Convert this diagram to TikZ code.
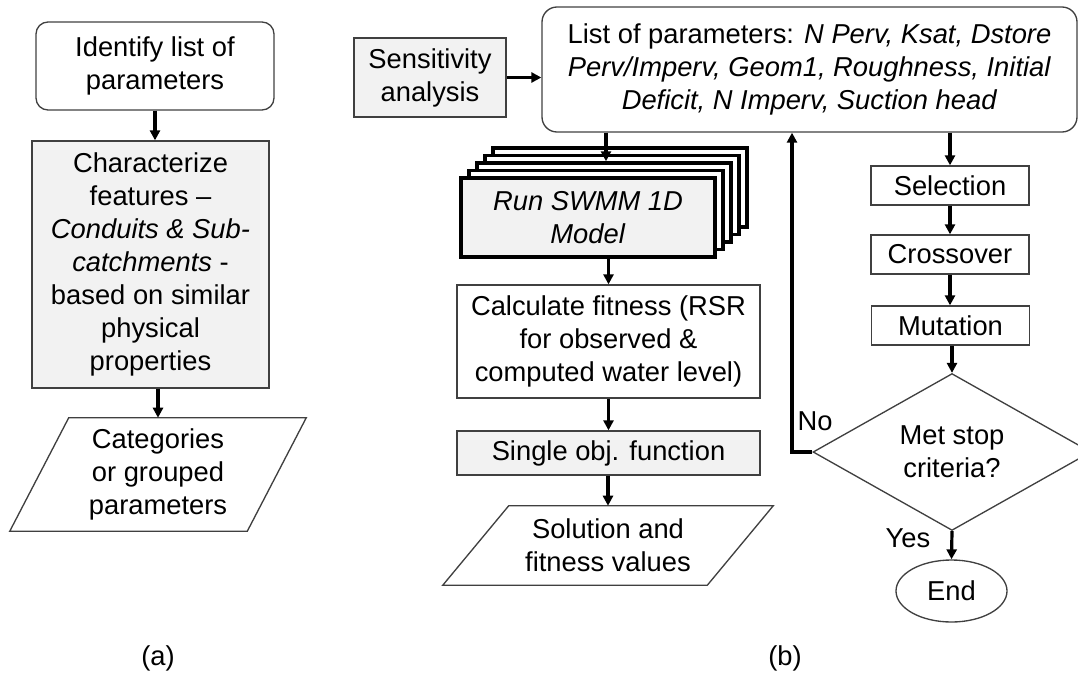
\documentclass[tikz,border=0pt]{standalone}
\usepackage{fontspec}
\setmainfont{Liberation Sans}
\usetikzlibrary{shapes.geometric,arrows.meta,calc}
\newdimen\pxu \pxu=0.75pt
\newcommand\flowfont{\fontsize{20.5pt}{24.75pt}\selectfont}
\tikzset{
  every node/.style={font=\flowfont, align=center, inner sep=0pt},
  box/.style={draw=black!75, line width=1pt},
  grayfill/.style={fill=black!5},
  rbox/.style={box, rectangle, rounded corners=12\pxu},
  arr/.style={line width=2.4pt, -{Triangle[width=7.5pt,length=7.5pt]}},
  stackbox/.style={draw=black, line width=2.6pt, fill=white,
    minimum width=254\pxu, minimum height=79\pxu},
  slantbox/.style={box, line join=miter}
}
\begin{document}
\begin{tikzpicture}[x=0.75pt,y=-0.75pt]
\useasboundingbox (0,0) rectangle (1078,675);

% ---------- (a) parameter grouping ----------
\node[rbox, minimum width=238\pxu, minimum height=88\pxu] (ident) at (155,66)
  {Identify list of\\parameters};
\node[box, grayfill, minimum width=237\pxu, minimum height=247\pxu] (char) at (150.5,264.5)
  {Characterize\\features \textendash\\\textit{Conduits \& Sub-}\\\textit{catchments} -\\based on similar\\physical\\properties};
\node[minimum width=178\pxu, minimum height=113\pxu] (cat) at (158,474.5)
  {Categories\\or grouped\\parameters};
\draw[slantbox] ($(cat.north west)$) -- ($(cat.north east)+(59,0)$)
  -- (cat.south east) -- ($(cat.south west)+(-59,0)$) -- cycle;

\draw[arr] (ident.south) -- (ident.south |- char.north);
\draw[arr] (cat.north |- char.south) -- (cat.north);

\node (la) at (158,658) {(a)};

% ---------- (b) calibration loop ----------
\node[box, rectangle, grayfill, minimum width=152\pxu, minimum height=79\pxu] (sens) at (430,77.5)
  {Sensitivity\\analysis};
\node[box, rectangle, rounded corners=15\pxu, minimum width=535\pxu, minimum height=125\pxu] (list) at (809.5,69.5)
  {List of parameters: \textit{N Perv, Ksat, Dstore}\\
   \textit{Perv/Imperv, Geom1, Roughness, Initial}\\
   \textit{Deficit, N Imperv, Suction head}};
\draw[arr] (sens.east) -- (sens.east -| list.west);

% stacked model runs
\foreach \i in {4,3,2,1}{
  \node[stackbox] (run\i) at ($(588,217.5)+(8*\i,-7.5*\i)$) {};
}
\node[stackbox, fill=black!5] (run) at (588,217.5)
  {\textit{Run SWMM 1D}\\\textit{Model}};

\node[box, rectangle, minimum width=303\pxu, minimum height=113\pxu] (calc) at (608.5,341.5)
  {Calculate fitness (RSR\\for observed \&\\computed water level)};
\node[box, rectangle, grayfill, minimum width=303\pxu, minimum height=44\pxu] (single) at (608.5,453)
  {Single obj. function};
\node[minimum width=198\pxu, minimum height=79\pxu] (sol) at (608,545.5)
  {Solution and\\fitness values};
\draw[slantbox] (sol.north west) -- ($(sol.north east)+(66,0)$)
  -- (sol.south east) -- ($(sol.south west)+(-66,0)$) -- cycle;

\coordinate (feed) at (606,0);
\draw[arr] (feed |- list.south) -- (feed |- run2.north);
\draw[arr] (calc.north |- run.south) -- (calc.north);
\draw[arr] (calc.south) -- (calc.south |- single.north);
\draw[arr] (sol.north |- single.south) -- (sol.north);

% genetic operators
\node[box, rectangle, minimum width=158\pxu, minimum height=39\pxu] (sel) at (950,185.5) {Selection};
\node[box, rectangle, minimum width=158\pxu, minimum height=39\pxu] (cross) at (950,254.5) {Crossover};
\node[box, rectangle, minimum width=158\pxu, minimum height=39\pxu] (mut) at (950.5,325.5) {Mutation};
\node[box, diamond, minimum width=278\pxu, minimum height=154\pxu] (dia) at (952,452)
  {Met stop\\criteria?};
\node[box, ellipse, minimum width=111\pxu, minimum height=62\pxu] (endn) at (951.5,591) {End};

\draw[arr] (sel.north |- list.south) -- (sel.north);
\draw[arr] (sel.south) -- (sel.south |- cross.north);
\draw[arr] (cross.south) -- (cross.south |- mut.north);
\draw[arr] (dia.north |- mut.south) -- (dia.north);
\draw[arr] (dia.south) -- (endn.north);

\coordinate (fb) at (792,452);
\draw[arr, line width=2.6pt] (dia.west) -- (fb) -- (fb |- list.south);

\node (no) at (815,421) {No};
\node (yes) at (908,538) {Yes};
\node (lb) at (785,658) {(b)};
\end{tikzpicture}
\end{document}
